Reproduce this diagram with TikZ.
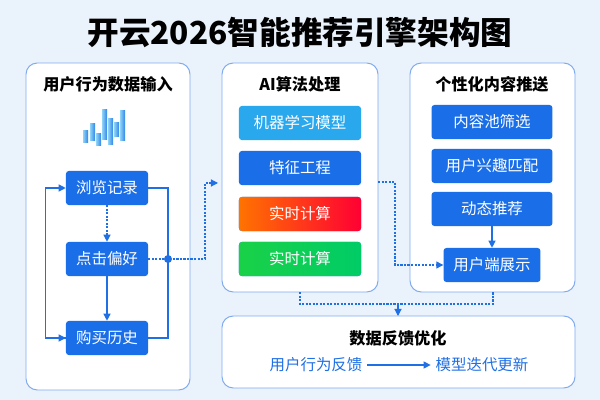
\documentclass[tikz,border=0pt]{standalone}
\usepackage{fontspec}
\usetikzlibrary{arrows.meta,positioning}
\newfontfamily\cjk{Noto Sans CJK SC}
\definecolor{bgblue}{HTML}{EAF2FB}
\definecolor{edgeblue}{HTML}{7FAAF0}
\definecolor{boxblue}{HTML}{1A6EE8}
\definecolor{lineblue}{HTML}{1F6FE5}
\definecolor{mlcyan}{HTML}{2AA8EE}
\definecolor{barlight}{HTML}{8FD3F7}
\definecolor{bardark}{HTML}{2F86E8}
\tikzstyle{panel} = [draw=edgeblue, fill=white, rounded corners=8pt, line width=0.7pt]
\tikzstyle{stepbox} = [fill=boxblue, rounded corners=2pt, text=white, font=\cjk\fontsize{11}{13}\selectfont, inner sep=0pt, minimum height=0.85cm]
\tikzstyle{head} = [font=\cjk\bfseries\fontsize{11.5}{13}\selectfont]
\tikzstyle{link} = [draw=lineblue, line width=0.8pt, -{Triangle[length=5pt,width=5pt]}]
\tikzstyle{dlink} = [link, dash pattern=on 1.5pt off 1pt]

\begin{document}
\begin{tikzpicture}[x=0.025cm, y=-0.025cm]
\fill[bgblue] (0,0) rectangle (600,400);
\node[font=\cjk\bfseries\fontsize{22.5}{26}\selectfont] (title) at (300,32) {开云2026智能推荐引擎架构图};
% panels
\draw[panel] (26,63) rectangle (190,390);
\draw[panel] (222,63) rectangle (378,292);
\draw[panel] (410,63) rectangle (575,292);
\draw[panel] (222,316) rectangle (575,388);
\node[head] (hin) at (108,84) {用户行为数据输入};
\node[head] (hai) at (300,84) {AI算法处理};
\node[head] (hpush) at (492,84) {个性化内容推送};
\node[head] (hfb) at (398,338) {数据反馈优化};
% chart icon
\foreach \x/\y/\h in {83/143/12, 90/141/17, 96/146/12, 102/140/30, 108/145/26, 114/137/14, 120/141/30}
  \fill[left color=barlight, right color=bardark] (\x,\y) rectangle ++(5,-\h);
% input steps
\node[stepbox, minimum width=2.05cm] (browse) at (107,188) {浏览记录};
\node[stepbox, minimum width=2.05cm] (click) at (107,259) {点击偏好};
\node[stepbox, minimum width=2.05cm] (buy) at (107,338) {购买历史};
\coordinate (hub) at (168,259);
\draw[dlink] (browse) -- (click);
\draw[link] (click) -- (buy);
\draw[draw=lineblue, line width=0.8pt] (browse.east) -| (hub) |- (buy.east);
\draw[link] (buy.west) -- ++(-20,0) |- (browse.west);
\draw[link] (46,338) -- (buy.west);
\fill[lineblue] (hub) circle (4);
% algorithm steps
\node[stepbox, fill=mlcyan, minimum width=3.05cm] (ml) at (300,123) {机器学习模型};
\node[stepbox, minimum width=3.05cm] (feat) at (300,168) {特征工程};
\node[stepbox, minimum width=3.05cm, left color=orange!90!red, right color=red!80!magenta] (rt1) at (300,214) {实时计算};
\node[stepbox, minimum width=3.05cm, left color=green!60!teal!90, right color=teal!50!green!80!cyan] (rt2) at (300,259) {实时计算};
\coordinate (aiin) at (218,183);
\draw[dlink] (click.east) -- (hub) -- (205,259) |- (aiin);
% push steps
\node[stepbox, minimum width=3.02cm] (pool) at (492,122) {内容池筛选};
\node[stepbox, minimum width=3.02cm] (match) at (492,166) {用户兴趣匹配};
\node[stepbox, minimum width=3.02cm] (dyn) at (492,209) {动态推荐};
\node[stepbox, minimum width=2.42cm] (show) at (492,265) {用户端展示};
\draw[link] (dyn) -- (show);
\draw[dlink] (378,182) -- (395,182) |- (show.west);
% feedback
\draw[draw=lineblue, line width=0.8pt, dash pattern=on 1.5pt off 1pt] (300,292) |- (493,304) -- (493,292);
\draw[link] (398,304) -- (398,316);
\node[font=\cjk\fontsize{11}{13}\selectfont, text=lineblue] (fb) at (316,365) {用户行为反馈};
\node[font=\cjk\fontsize{11}{13}\selectfont, text=lineblue] (iter) at (482,365) {模型迭代更新};
\draw[link] (fb) -- (iter);
\end{tikzpicture}
\end{document}
